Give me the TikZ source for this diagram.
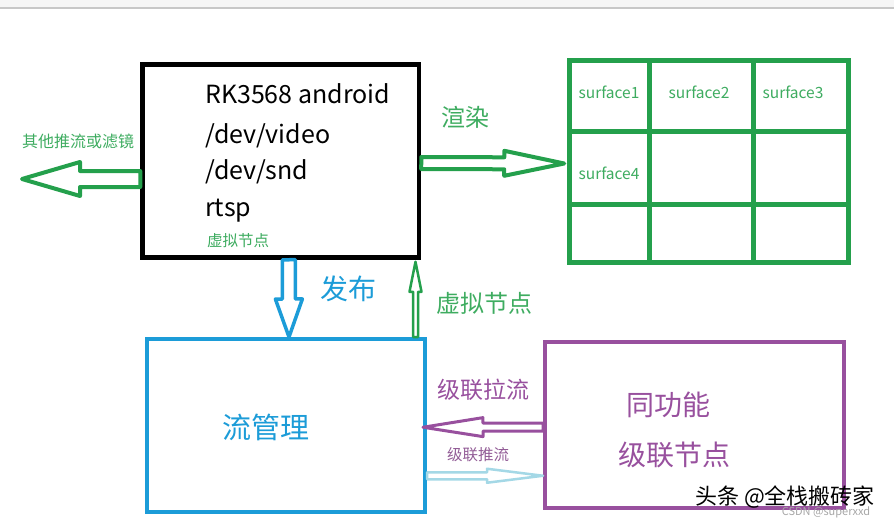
\documentclass[tikz,border=0pt]{standalone}
\usepackage{fontspec}
\setmainfont{Noto Sans CJK SC}
\usepackage{tikz}
\usetikzlibrary{calc}
\definecolor{nodegreen}{RGB}{36,160,76}
\definecolor{labelgreen}{RGB}{62,172,96}
\definecolor{flowblue}{RGB}{28,156,216}
\definecolor{peerpurple}{RGB}{152,80,158}
\definecolor{pushcyan}{RGB}{164,216,230}
\newcommand{\fsz}[1]{\fontsize{#1}{#1}\selectfont}
% hollow block arrow: style, tail, tip, shaft half width, head half width, head length
\newcommand{\hollowarrow}[6]{%
  \coordinate (hb) at ($(#3)!#6!(#2)$);
  \draw[harr, #1] ($(#2)!#4!90:(#3)$) -- ($(hb)!#4!90:(#3)$) -- ($(hb)!#5!90:(#3)$) -- (#3)
    -- ($(hb)!#5!-90:(#3)$) -- ($(hb)!#4!-90:(#3)$) -- ($(#2)!#4!-90:(#3)$) -- cycle;
}

\begin{document}
\begin{tikzpicture}[x=1pt, y=-1pt,
  box/.style={draw, line width=4.5pt, fill=white, inner sep=0pt},
  harr/.style={fill=white, line join=round},
  lbl/.style={inner sep=0pt},
  devtxt/.style={anchor=base west, inner sep=0pt, font=\fsz{25}},
  surf/.style={inner sep=0pt, text=labelgreen, font=\fsz{15.5}}
]
  \useasboundingbox (0,0) rectangle (894,527);
  \fill[black!4] (0,0) rectangle (894,8);
  \draw[black!22, line width=2pt] (0,8) -- (894,8);

  % boxes
  \node[box, minimum width=276.5pt, minimum height=193pt] (rk) at (280.75,161) {};
  \node[box, draw=flowblue, line width=4pt, minimum width=278pt, minimum height=172.5pt] (flow) at (286,425.25) {};
  \node[box, draw=peerpurple, line width=4pt, minimum width=299pt, minimum height=165.5pt] (peer) at (694.5,424.75) {};
  \node[box, draw=nodegreen, minimum width=279pt, minimum height=202pt] (grid) at (709,161.5) {};
  \draw[nodegreen, line width=4.5pt] (649.5,60.5) -- (649.5,262.5);
  \draw[nodegreen, line width=4.5pt] (753.5,60.5) -- (753.5,262.5);
  \draw[nodegreen, line width=4.5pt] (569.5,131.5) -- (848.5,131.5);
  \draw[nodegreen, line width=4.5pt] (569.5,204.5) -- (848.5,204.5);

  % texts in the boxes
  \node[devtxt] (rkname) at (205,103) {RK3568 android};
  \node[devtxt] (video) at (205,143) {/dev/video};
  \node[devtxt] (snd) at (205,179) {/dev/snd};
  \node[devtxt] (rtsp) at (205,216) {rtsp};
  \node[lbl, text=labelgreen, font=\fsz{15.5}] (rkvirt) at (238,241) {虚拟节点};
  \node[surf] (surf1) at (609,92) {surface1};
  \node[surf] (surf2) at (699,92) {surface2};
  \node[surf] (surf3) at (793,92) {surface3};
  \node[surf] (surf4) at (609,173) {surface4};
  \node[lbl, text=flowblue, font=\fsz{29}] (flowname) at (266,427) {流管理};
  \node[lbl, text=peerpurple, font=\fsz{28}] (peername) at (668,405) {同功能};
  \node[lbl, text=peerpurple, font=\fsz{28}] (peerkind) at (674,455) {级联节点};

  % arrows
  \coordinate (othertail) at ($(rk.west)+(0,18)$);
  \coordinate (othertip) at (22,179);
  \hollowarrow{draw=nodegreen, line width=4pt}{othertail}{othertip}{8pt}{17pt}{58pt}
  \coordinate (rendertail) at ($(rk.east)+(0,2)$);
  \coordinate (rendertip) at ($(grid.west)+(-3,2)$);
  \hollowarrow{draw=nodegreen, line width=4pt}{rendertail}{rendertip}{6pt}{12.5pt}{60pt}
  \coordinate (pubtail) at ($(rk.south)+(8,0)$);
  \coordinate (pubtip) at ($(flow.north)+(3,0)$);
  \hollowarrow{draw=flowblue, line width=3.5pt}{pubtail}{pubtip}{6.5pt}{13.5pt}{38pt}
  \coordinate (virttail) at ($(flow.north east)+(-11.5,0)$);
  \coordinate (virttip) at ($(rk.south east)+(-5.75,2)$);
  \hollowarrow{draw=nodegreen, line width=2.5pt}{virttail}{virttip}{2.5pt}{6pt}{30pt}
  \coordinate (pulltail) at ($(peer.west)+(0,2.25)$);
  \coordinate (pulltip) at ($(flow.east)+(-4,2)$);
  \hollowarrow{draw=peerpurple, line width=3pt}{pulltail}{pulltip}{4pt}{9.5pt}{60pt}
  \coordinate (pushtail) at ($(flow.east)+(0,50.5)$);
  \coordinate (pushtip) at ($(peer.west)+(0,51)$);
  \hollowarrow{draw=pushcyan, line width=2.5pt}{pushtail}{pushtip}{3.5pt}{7pt}{56pt}

  % arrow labels
  \node[lbl, text=labelgreen, font=\fsz{16}] (otherlbl) at (78,141) {其他推流或滤镜};
  \node[lbl, text=labelgreen, font=\fsz{24}] (renderlbl) at (465,117) {渲染};
  \node[lbl, text=flowblue, font=\fsz{28}] (publbl) at (348,289) {发布};
  \node[lbl, text=labelgreen, font=\fsz{24}] (virtlbl) at (484,303) {虚拟节点};
  \node[lbl, text=peerpurple, font=\fsz{23}] (pulllbl) at (483,390) {级联拉流};
  \node[lbl, text=peerpurple!75!gray, font=\fsz{15.5}] (pushlbl) at (478,455) {级联推流};

  % watermarks
  \node[lbl, text=black!35, font=\fsz{11}] (csdn) at (826,512) {CSDN @superxxd};
  \node[lbl, text=black, font=\fsz{22}] (mark) at (785,497) {头条 @全栈搬砖家};
\end{tikzpicture}
\end{document}
